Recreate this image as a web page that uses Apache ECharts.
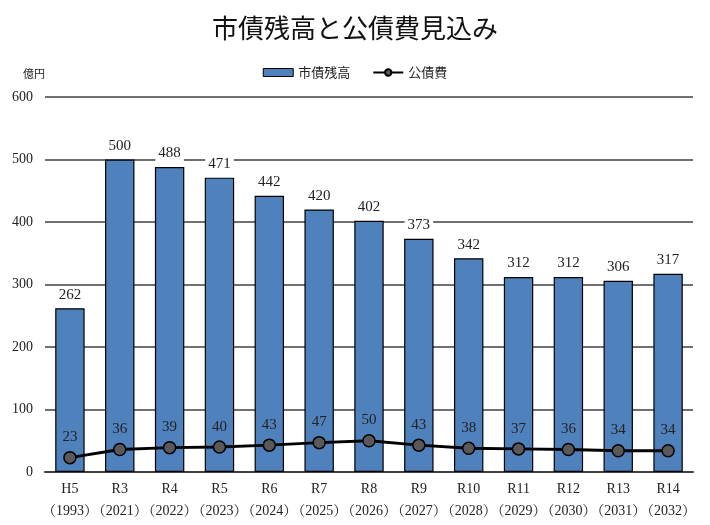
<!DOCTYPE html>
<html><head><meta charset="utf-8">
<script src="https://cdn.jsdelivr.net/npm/echarts@6/dist/echarts.min.js"></script>
<style>html,body{margin:0;padding:0;background:#fff}#c{width:710px;height:525px}</style>
</head><body><div id="c"></div>
<script>
const categories = ['H5\n（1993）','R3\n（2021）','R4\n（2022）','R5\n（2023）','R6\n（2024）','R7\n（2025）','R8\n（2026）','R9\n（2027）','R10\n（2028）','R11\n（2029）','R12\n（2030）','R13\n（2031）','R14\n（2032）'];
const debtBalance = [262,500,488,471,442,420,402,373,342,312,312,306,317];
const debtService = [23,36,39,40,43,47,50,43,38,37,36,34,34];
const yTicks = [0,100,200,300,400,500,600];
const numFont = '"Liberation Serif", "Noto Serif CJK JP", serif';
const jpFont = '"Noto Sans CJK JP", sans-serif';
const chart = echarts.init(document.getElementById('c'));
chart.setOption({
  animation:false,
  title:{text:'市債残高と公債費見込み',left:'center',top:10,textStyle:{fontFamily:jpFont,fontSize:26,fontWeight:'normal',color:'#111'}},
  legend:{top:61,left:'center',itemGap:22,textStyle:{fontFamily:jpFont,fontSize:13,color:'#222'},
    data:[{name:'市債残高',icon:'rect',itemStyle:{color:'#4f81bd',borderColor:'#000',borderWidth:1}},{name:'公債費'}],
    itemWidth:30,itemHeight:8},
  grid:{left:45,right:17,top:97,bottom:53,containLabel:false},
  xAxis:{type:'category',data:categories,
    axisLine:{lineStyle:{color:'#404040',width:2}},axisTick:{show:false},
    axisLabel:{interval:0,fontFamily:numFont,fontSize:14,color:'#222',lineHeight:22,margin:6}},
  yAxis:{type:'value',min:0,max:600,interval:100,name:'億円',nameLocation:'end',nameGap:18,
    nameTextStyle:{fontFamily:jpFont,fontSize:11,color:'#222',align:'center',padding:[0,0,0,-22]},
    axisLine:{show:false},axisTick:{show:false},
    axisLabel:{fontFamily:numFont,fontSize:14,color:'#222',margin:12,
      formatter:v=>yTicks.includes(v)?String(v):''},
    splitLine:{lineStyle:{color:'#404040',width:1.5}}},
  series:[
    {name:'市債残高',type:'bar',data:debtBalance,barWidth:'59%',
      itemStyle:{color:'#4f81bd',borderColor:'#000',borderWidth:1.2},
      label:{show:true,position:'top',distance:5,fontFamily:numFont,fontSize:15,color:'#222',backgroundColor:'#fff',padding:[1,3]}},
    {name:'公債費',type:'line',data:debtService,symbol:'circle',symbolSize:12,z:5,
      lineStyle:{color:'#000',width:3},
      itemStyle:{color:'#595959',borderColor:'#000',borderWidth:1.5},
      label:{show:true,position:'top',distance:6,fontFamily:numFont,fontSize:15,color:'#222'}}
  ]
});
</script></body></html>
